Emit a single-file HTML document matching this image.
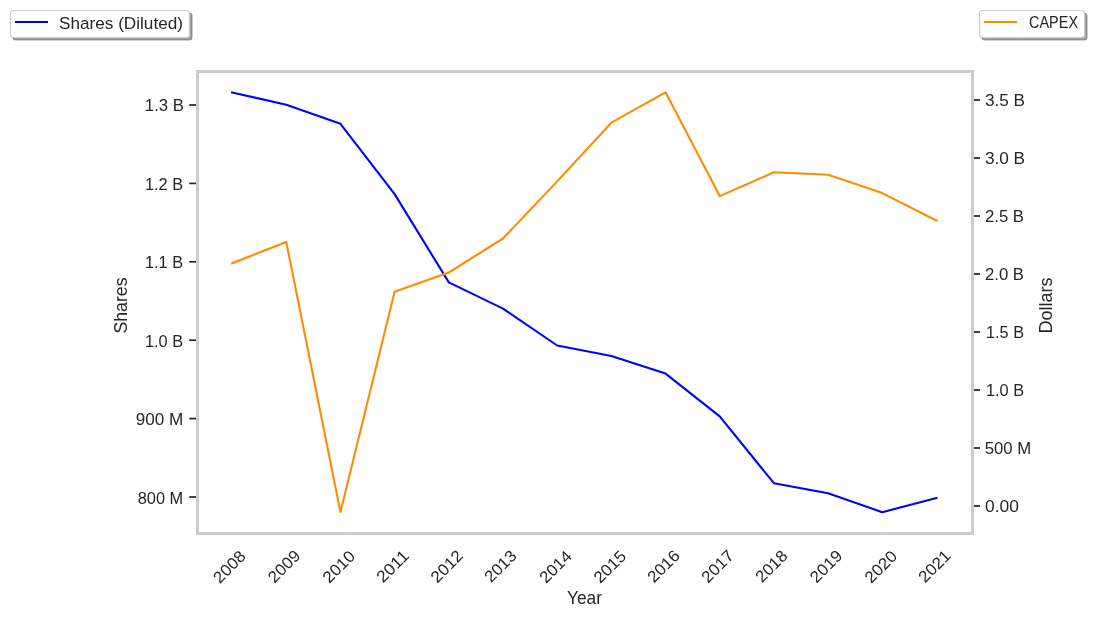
<!DOCTYPE html>
<html><head><meta charset="utf-8"><title>Shares (Diluted) and CAPEX</title>
<style>html,body{margin:0;padding:0;background:#fff;width:1094px;height:618px;overflow:hidden}svg{display:block}text{font-family:"Liberation Sans",sans-serif}</style>
</head><body>
<svg width="1094" height="618" viewBox="0 0 1094 618">
<rect width="1094" height="618" fill="#fff"/>
<rect x="197.5" y="71.5" width="775" height="462" fill="none" stroke="#cccccc" stroke-width="3"/>
<line x1="189.2" y1="105.00" x2="197.5" y2="105.00" stroke="#262626" stroke-width="1.74"/>
<line x1="189.2" y1="183.40" x2="197.5" y2="183.40" stroke="#262626" stroke-width="1.74"/>
<line x1="189.2" y1="261.80" x2="197.5" y2="261.80" stroke="#262626" stroke-width="1.74"/>
<line x1="189.2" y1="340.20" x2="197.5" y2="340.20" stroke="#262626" stroke-width="1.74"/>
<line x1="189.2" y1="418.60" x2="197.5" y2="418.60" stroke="#262626" stroke-width="1.74"/>
<line x1="189.2" y1="497.00" x2="197.5" y2="497.00" stroke="#262626" stroke-width="1.74"/>
<line x1="972.5" y1="100.00" x2="980" y2="100.00" stroke="#262626" stroke-width="1.74"/>
<line x1="972.5" y1="158.00" x2="980" y2="158.00" stroke="#262626" stroke-width="1.74"/>
<line x1="972.5" y1="216.00" x2="980" y2="216.00" stroke="#262626" stroke-width="1.74"/>
<line x1="972.5" y1="274.00" x2="980" y2="274.00" stroke="#262626" stroke-width="1.74"/>
<line x1="972.5" y1="332.00" x2="980" y2="332.00" stroke="#262626" stroke-width="1.74"/>
<line x1="972.5" y1="390.00" x2="980" y2="390.00" stroke="#262626" stroke-width="1.74"/>
<line x1="972.5" y1="448.00" x2="980" y2="448.00" stroke="#262626" stroke-width="1.74"/>
<line x1="972.5" y1="506.00" x2="980" y2="506.00" stroke="#262626" stroke-width="1.74"/>
<rect x="197.5" y="71.5" width="775" height="462" fill="none" stroke="#cccccc" stroke-width="3"/>
<polyline points="232.10,92.40 286.28,104.80 340.46,123.80 394.64,194.10 448.82,282.40 503.00,308.60 557.18,345.50 611.36,356.05 665.54,373.60 719.72,416.40 773.90,483.20 828.08,493.20 882.26,512.20 936.44,498.00" fill="none" stroke="#0000ff" stroke-width="2.08" stroke-linejoin="round" stroke-linecap="square"/>
<polyline points="232.10,263.30 286.28,242.00 340.46,512.00 394.64,291.70 448.82,272.50 503.00,238.50 557.18,181.40 611.36,122.70 665.54,92.30 719.72,196.10 773.90,172.30 828.08,174.80 882.26,193.10 936.44,220.50" fill="none" stroke="#ff8c00" stroke-width="2.08" stroke-linejoin="round" stroke-linecap="square"/>
<rect x="13.0" y="13.0" width="179" height="27" rx="3" fill="rgba(77,77,77,0.5)" stroke="rgba(77,77,77,0.5)" stroke-width="1.11"/><rect x="10.5" y="10.5" width="179" height="27" rx="3" fill="#fff" stroke="#cccccc" stroke-width="1.11"/><line x1="16.04" y1="22" x2="46.96" y2="22" stroke="#0000ff" stroke-width="2.08" stroke-linecap="square"/>
<rect x="982.0" y="13.0" width="105" height="27" rx="3" fill="rgba(77,77,77,0.5)" stroke="rgba(77,77,77,0.5)" stroke-width="1.11"/><rect x="979.5" y="10.5" width="105" height="27" rx="3" fill="#fff" stroke="#cccccc" stroke-width="1.11"/><line x1="985.04" y1="22" x2="1015.96" y2="22" stroke="#ff8c00" stroke-width="2.08" stroke-linecap="square"/>
<g fill="#262626" font-family="Liberation Sans, sans-serif" opacity="0.999">
<text x="58.98" y="28.60" font-size="16.30" textLength="124.03" lengthAdjust="spacingAndGlyphs">Shares (Diluted)</text>
<text x="1028.98" y="28.00" font-size="16.30" textLength="49.09" lengthAdjust="spacingAndGlyphs">CAPEX</text>
<text x="144.89" y="111.00" font-size="16.30" textLength="39.17" lengthAdjust="spacingAndGlyphs">1.3 B</text>
<text x="144.94" y="190.40" font-size="16.30" textLength="38.09" lengthAdjust="spacingAndGlyphs">1.2 B</text>
<text x="144.94" y="267.80" font-size="16.30" textLength="38.09" lengthAdjust="spacingAndGlyphs">1.1 B</text>
<text x="144.94" y="347.20" font-size="16.30" textLength="38.09" lengthAdjust="spacingAndGlyphs">1.0 B</text>
<text x="135.71" y="424.60" font-size="16.30" textLength="47.57" lengthAdjust="spacingAndGlyphs">900 M</text>
<text x="137.75" y="504.00" font-size="16.30" textLength="45.48" lengthAdjust="spacingAndGlyphs">800 M</text>
<text x="984.91" y="106.00" font-size="16.30" textLength="40.17" lengthAdjust="spacingAndGlyphs">3.5 B</text>
<text x="984.91" y="164.00" font-size="16.30" textLength="40.17" lengthAdjust="spacingAndGlyphs">3.0 B</text>
<text x="984.94" y="222.00" font-size="16.30" textLength="39.11" lengthAdjust="spacingAndGlyphs">2.5 B</text>
<text x="984.94" y="280.00" font-size="16.30" textLength="39.11" lengthAdjust="spacingAndGlyphs">2.0 B</text>
<text x="985.94" y="338.00" font-size="16.30" textLength="38.09" lengthAdjust="spacingAndGlyphs">1.5 B</text>
<text x="985.94" y="396.00" font-size="16.30" textLength="38.09" lengthAdjust="spacingAndGlyphs">1.0 B</text>
<text x="984.74" y="454.00" font-size="16.30" textLength="46.51" lengthAdjust="spacingAndGlyphs">500 M</text>
<text x="985.09" y="512.00" font-size="16.30" textLength="33.83" lengthAdjust="spacingAndGlyphs">0.00</text>
<text transform="translate(229.20 566.50) rotate(-45)" x="0" y="5.87" text-anchor="middle" font-size="16.30" textLength="38.20" lengthAdjust="spacingAndGlyphs">2008</text>
<text transform="translate(283.90 566.00) rotate(-45)" x="0" y="5.87" text-anchor="middle" font-size="16.30" textLength="38.13" lengthAdjust="spacingAndGlyphs">2009</text>
<text transform="translate(338.59 566.50) rotate(-45)" x="0" y="5.87" text-anchor="middle" font-size="16.30" textLength="38.02" lengthAdjust="spacingAndGlyphs">2010</text>
<text transform="translate(392.29 566.00) rotate(-45)" x="0" y="5.87" text-anchor="middle" font-size="16.30" textLength="38.00" lengthAdjust="spacingAndGlyphs">2011</text>
<text transform="translate(446.48 566.00) rotate(-45)" x="0" y="5.87" text-anchor="middle" font-size="16.30" textLength="38.16" lengthAdjust="spacingAndGlyphs">2012</text>
<text transform="translate(500.18 566.00) rotate(-45)" x="0" y="5.87" text-anchor="middle" font-size="16.30" textLength="37.39" lengthAdjust="spacingAndGlyphs">2013</text>
<text transform="translate(555.38 566.50) rotate(-45)" x="0" y="5.87" text-anchor="middle" font-size="16.30" textLength="38.10" lengthAdjust="spacingAndGlyphs">2014</text>
<text transform="translate(609.57 566.50) rotate(-45)" x="0" y="5.87" text-anchor="middle" font-size="16.30" textLength="38.08" lengthAdjust="spacingAndGlyphs">2015</text>
<text transform="translate(663.27 566.00) rotate(-45)" x="0" y="5.87" text-anchor="middle" font-size="16.30" textLength="38.00" lengthAdjust="spacingAndGlyphs">2016</text>
<text transform="translate(717.46 566.00) rotate(-45)" x="0" y="5.87" text-anchor="middle" font-size="16.30" textLength="38.17" lengthAdjust="spacingAndGlyphs">2017</text>
<text transform="translate(771.16 566.00) rotate(-45)" x="0" y="5.87" text-anchor="middle" font-size="16.30" textLength="37.35" lengthAdjust="spacingAndGlyphs">2018</text>
<text transform="translate(825.86 566.00) rotate(-45)" x="0" y="5.87" text-anchor="middle" font-size="16.30" textLength="38.13" lengthAdjust="spacingAndGlyphs">2019</text>
<text transform="translate(880.55 566.50) rotate(-45)" x="0" y="5.87" text-anchor="middle" font-size="16.30" textLength="38.02" lengthAdjust="spacingAndGlyphs">2020</text>
<text transform="translate(934.25 566.00) rotate(-45)" x="0" y="5.87" text-anchor="middle" font-size="16.30" textLength="38.00" lengthAdjust="spacingAndGlyphs">2021</text>
<text transform="translate(120.20 305.50) rotate(-90)" x="0" y="6.62" text-anchor="middle" font-size="18.40" textLength="56.04" lengthAdjust="spacingAndGlyphs">Shares</text>
<text transform="translate(1045.20 305.50) rotate(-90)" x="0" y="6.62" text-anchor="middle" font-size="18.40" textLength="56.00" lengthAdjust="spacingAndGlyphs">Dollars</text>
<text x="567.00" y="604.00" font-size="17.80" textLength="35.03" lengthAdjust="spacingAndGlyphs">Year</text>
</g>
</svg>
</body></html>
